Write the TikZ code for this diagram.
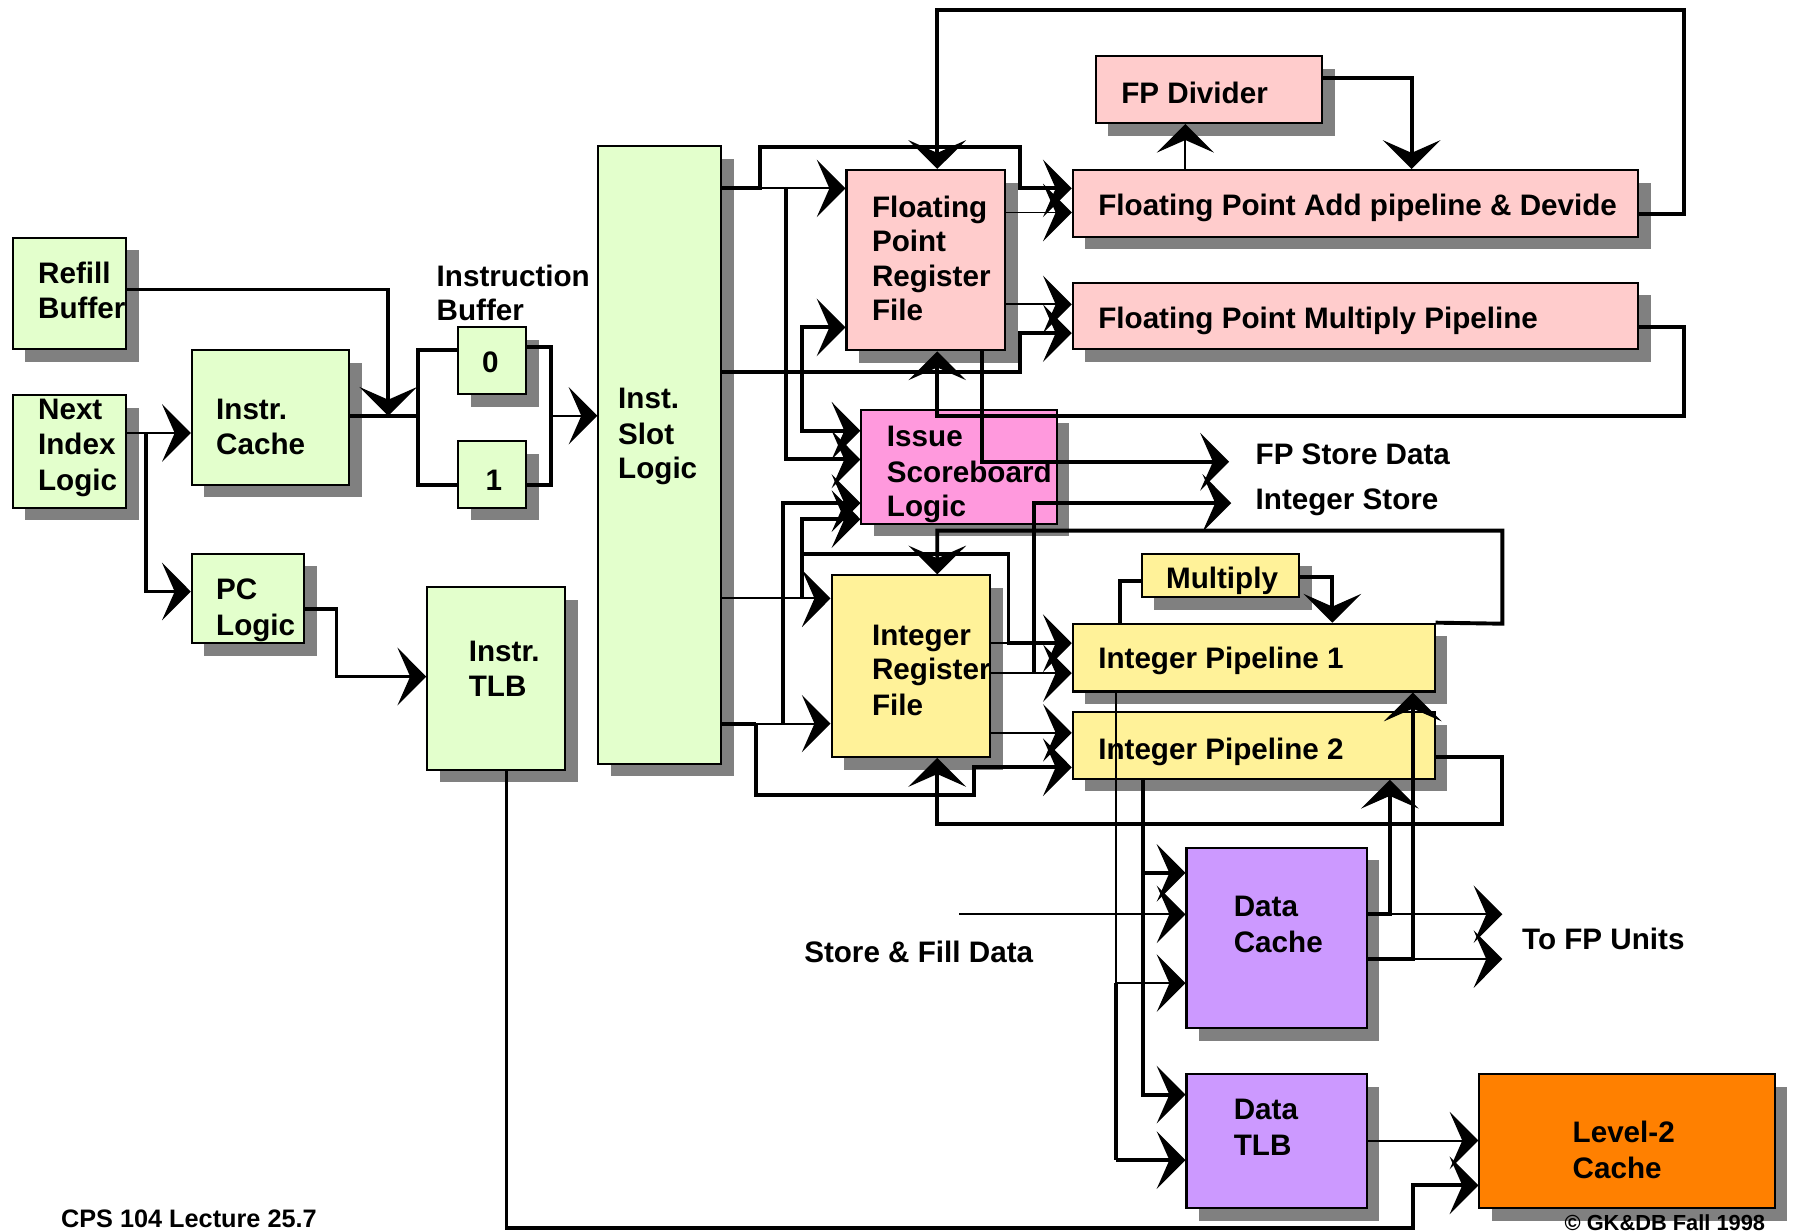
\documentclass[tikz,border=0pt]{standalone}
\usepackage{fontspec}
\setmainfont{Liberation Sans}
\usetikzlibrary{arrows.meta,shadows}
\definecolor{cgreen}{RGB}{227,255,204}
\definecolor{cpink}{RGB}{255,204,204}
\definecolor{cmag}{RGB}{255,153,221}
\definecolor{cyel}{RGB}{255,242,153}
\definecolor{cpur}{RGB}{204,153,255}
\definecolor{corg}{RGB}{255,128,0}
\newcommand\mybox[6]{\node[box,fill=#6,minimum width=#4pt,minimum height=#5pt] (#1) at (#2,#3) {};}
\newcommand\mytl[4]{\node[lbl] (#1) at (#2,#3) {#4};}
\begin{document}
\begin{tikzpicture}[x=1pt,y=-1pt,
  >={Stealth[length=25pt,width=50pt,inset=11pt]},
  box/.style={draw,line width=1.8pt,inner sep=0pt,
    drop shadow={shadow xshift=11pt,shadow yshift=-11pt,fill=black!50,opacity=1}},
  tk/.style={line width=3.4pt},
  tn/.style={line width=1.7pt},
  lbl/.style={anchor=base west,inner sep=0pt,font=\bfseries\fontsize{25.8}{30.5}\selectfont},
  sml/.style={anchor=base west,inner sep=0pt,font=\bfseries\fontsize{22}{26}\selectfont}]
\fill[white] (0,0) rectangle (1568,1072);
\useasboundingbox (0,0) rectangle (1568,1072);

% ---------- boxes ----------
\mybox{rb}{60.5}{255.5}{99}{97}{cgreen}
\mybox{nil}{60.5}{393}{99}{98}{cgreen}
\mybox{ic}{235.5}{363.5}{137}{117}{cgreen}
\mybox{pc}{216}{521}{98}{78}{cgreen}
\mybox{itlb}{432}{590.5}{120}{159}{cgreen}
\mybox{b0}{428.5}{314}{59}{58}{cgreen}
\mybox{b1}{428.5}{413}{59}{58}{cgreen}
\mybox{isl}{574.5}{396}{107}{538}{cgreen}
\mybox{fprf}{806}{226.5}{138}{157}{cpink}
\mybox{fpdiv}{1052.5}{78}{197}{58}{cpink}
\mybox{fpadd}{1180}{177}{492}{58}{cpink}
\mybox{fpmul}{1180}{275}{492}{58}{cpink}
\mybox{issue}{835}{406.5}{170}{99}{cmag}
\mybox{irf}{793}{580}{138}{158}{cyel}
\mybox{mul}{1062.5}{501}{137}{38}{cyel}
\mybox{ipa}{1091.5}{572.5}{315}{59}{cyel}
\mybox{ipb}{1091.5}{649}{315}{58}{cyel}
\mybox{dc}{1111.5}{816.5}{157}{157}{cpur}
\mybox{dtlb}{1111.5}{993.5}{157}{117}{cpur}
\mybox{ltwo}{1416.5}{993.5}{257}{117}{corg}

% ---------- free ends ----------
\coordinate (fpst) at (1070,402);
\coordinate (ist) at (1072,438);
\coordinate (sfd) at (835,796);
\coordinate (tfpa) at (1308,796);
\coordinate (tfpb) at (1308,835);

% ---------- connectors: left part ----------
\draw[tk,->] (rb.east |- 0,252) -- (338,252) -- (338,362);
\draw[tk] (ic.east |- 0,362) -- (364,362);
\draw[tk] (b0.west |- 0,305) -- (364,305) -- (364,422) -- (b1.west |- 0,422);
\draw[tk] (b0.east |- 0,302) -- (480,302) -- (480,422) -- (b1.east |- 0,422);
\draw[tn,->] (480,362) -- (isl.west |- 0,362);
\draw[tn,->] (nil.east |- 0,377) -- (ic.west |- 0,377);
\draw[tk,->] (127,377) -- (127,515) -- (pc.west |- 0,515);
\draw[tk,->] (pc.east |- 0,530) -- (293,530) -- (293,589) -- (itlb.west |- 0,589);
\draw[tk,->] (itlb.south -| 441,0) -- (441,1069) -- (1230,1069) -- (1230,1032) -- (ltwo.west |- 0,1032);

% ---------- connectors: floating point ----------
\draw[tk,->] (isl.east |- 0,164) -- (662,164) -- (662,128) -- (888,128) -- (888,164) -- (fpadd.west |- 0,164);
\draw[tn,->] (662,164) -- (fprf.west |- 0,164);
\draw[tk,->] (684,164) -- (684,400) -- (issue.west |- 0,400);
\draw[tk,<->] (fprf.west |- 0,285) -- (698,285) -- (698,375) -- (issue.west |- 0,375);
\draw[tk,->] (isl.east |- 0,324) -- (888,324) -- (888,290) -- (fpmul.west |- 0,290);
\draw[tn,->] (fprf.east |- 0,185) -- (fpadd.west |- 0,185);
\draw[tn,->] (fprf.east |- 0,265) -- (fpmul.west |- 0,265);
\draw[tk,->] (fpadd.east |- 0,186) -- (1466,186) -- (1466,9) -- (816,9) -- (fprf.north -| 816,0);
\draw[tk,->] (fpmul.east |- 0,285) -- (1466,285) -- (1466,362) -- (816,362) -- (fprf.south -| 816,0);
\draw[tn,->] (fpadd.north -| 1032,0) -- (fpdiv.south -| 1032,0);
\draw[tk,->] (fpdiv.east |- 0,68) -- (1229,68) -- (fpadd.north -| 1229,0);
\draw[tk,->] (fprf.south -| 855,0) -- (855,402) -- (fpst);
\draw[tk,->] (900,586) -- (900,438) -- (ist);

% ---------- connectors: integer ----------
\draw[tn,->] (isl.east |- 0,521) -- (irf.west |- 0,521);
\draw[tk,<-] (issue.west |- 0,452) -- (698,452) -- (698,521);
\draw[tk,->] (698,482) -- (878,482) -- (878,560) -- (ipa.west |- 0,560);
\draw[tn] (irf.east |- 0,560) -- (878,560);
\draw[tn,->] (irf.east |- 0,586) -- (ipa.west |- 0,586);
\draw[tk] (isl.east |- 0,630) -- (658,630);
\draw[tn,->] (658,630) -- (irf.west |- 0,630);
\draw[tk,->] (682,630) -- (682,438) -- (issue.west |- 0,438);
\draw[tk,->] (658,630) -- (658,692) -- (848,692) -- (848,668) -- (ipb.west |- 0,668);
\draw[tn,->] (irf.east |- 0,638) -- (ipb.west |- 0,638);
\draw[tk,->] (ipa.north east) -- (1308,543) -- (1308,462) -- (816,462) -- (irf.north -| 816,0);
\draw[tk,->] (ipb.east |- 0,659) -- (1308,659) -- (1308,717) -- (816,717) -- (irf.south -| 816,0);
\draw[tk] (ipa.north -| 975,0) -- (975,506) -- (mul.west |- 0,506);
\draw[tk,->] (mul.east |- 0,502) -- (1160,502) -- (ipa.north -| 1160,0);

% ---------- connectors: data ----------
\draw[tn] (ipa.south -| 972,0) -- (972,856);
\draw[tk] (972,856) -- (972,1010);
\draw[tn,->] (972,856) -- (dc.west |- 0,856);
\draw[tk,->] (972,1010) -- (dtlb.west |- 0,1010);
\draw[tk,->] (ipb.south -| 995,0) -- (995,953) -- (dtlb.west |- 0,953);
\draw[tk,->] (995,760) -- (dc.west |- 0,760);
\draw[tn,->] (sfd) -- (dc.west |- 0,796);
\draw[tk,->] (dc.east |- 0,796) -- (1210,796) -- (ipb.south -| 1210,0);
\draw[tn,->] (1210,796) -- (tfpa);
\draw[tk,->] (dc.east |- 0,835) -- (1230,835) -- (ipa.south -| 1230,0);
\draw[tn,->] (1230,835) -- (tfpb);
\draw[tn,->] (dtlb.east |- 0,993) -- (ltwo.west |- 0,993);

% ---------- texts ----------
\mytl{rbA}{33}{247}{Refill}
\mytl{rbB}{33}{277}{Buffer}
\mytl{nilA}{33}{365}{Next}
\mytl{nilB}{33}{396}{Index}
\mytl{nilC}{33}{427}{Logic}
\mytl{icA}{188}{365}{Instr.}
\mytl{icB}{188}{396}{Cache}
\mytl{pcA}{188}{522}{PC}
\mytl{pcB}{188}{553}{Logic}
\mytl{itA}{408}{576}{Instr.}
\mytl{itB}{408}{606}{TLB}
\node[lbl,anchor=base] (bzero) at (427,324) {0};
\node[lbl,anchor=base] (bone) at (430,427) {1};
\mytl{ibA}{380}{249}{Instruction}
\mytl{ibB}{380}{279}{Buffer}
\mytl{isA}{538}{356}{Inst.}
\mytl{isB}{538}{387}{Slot}
\mytl{isC}{538}{417}{Logic}
\mytl{frA}{759}{189}{Floating}
\mytl{frB}{759}{219}{Point}
\mytl{frC}{759}{249}{Register}
\mytl{frD}{759}{279}{File}
\mytl{fdA}{976}{90}{FP Divider}
\mytl{faA}{956}{188}{Floating Point Add pipeline \& Devide}
\mytl{fmA}{956}{286}{Floating Point Multiply Pipeline}
\mytl{iqA}{772}{389}{Issue}
\mytl{iqB}{772}{420}{Scoreboard}
\mytl{iqC}{772}{450}{Logic}
\mytl{irA}{759}{562}{Integer}
\mytl{irB}{759}{592}{Register}
\mytl{irC}{759}{623}{File}
\mytl{muA}{1015}{512}{Multiply}
\mytl{paA}{956}{582}{Integer Pipeline 1}
\mytl{pbA}{956}{661}{Integer Pipeline 2}
\mytl{dcA}{1074}{798}{Data}
\mytl{dcB}{1074}{829}{Cache}
\mytl{dtA}{1074}{975}{Data}
\mytl{dtB}{1074}{1006}{TLB}
\mytl{ltA}{1369}{995}{Level-2}
\mytl{ltB}{1369}{1026}{Cache}
\mytl{fsA}{1093}{404}{FP Store Data}
\mytl{isT}{1093}{444}{Integer Store}
\mytl{tfA}{1325}{827}{To FP Units}
\mytl{sfA}{700}{838}{Store \& Fill Data}
\node[sml] (cps) at (53,1069) {CPS 104 Lecture 25.7};
\node[sml,font=\bfseries\fontsize{19}{23}\selectfont] (copy) at (1362,1071) {© GK\&DB Fall 1998};
\end{tikzpicture}
\end{document}
